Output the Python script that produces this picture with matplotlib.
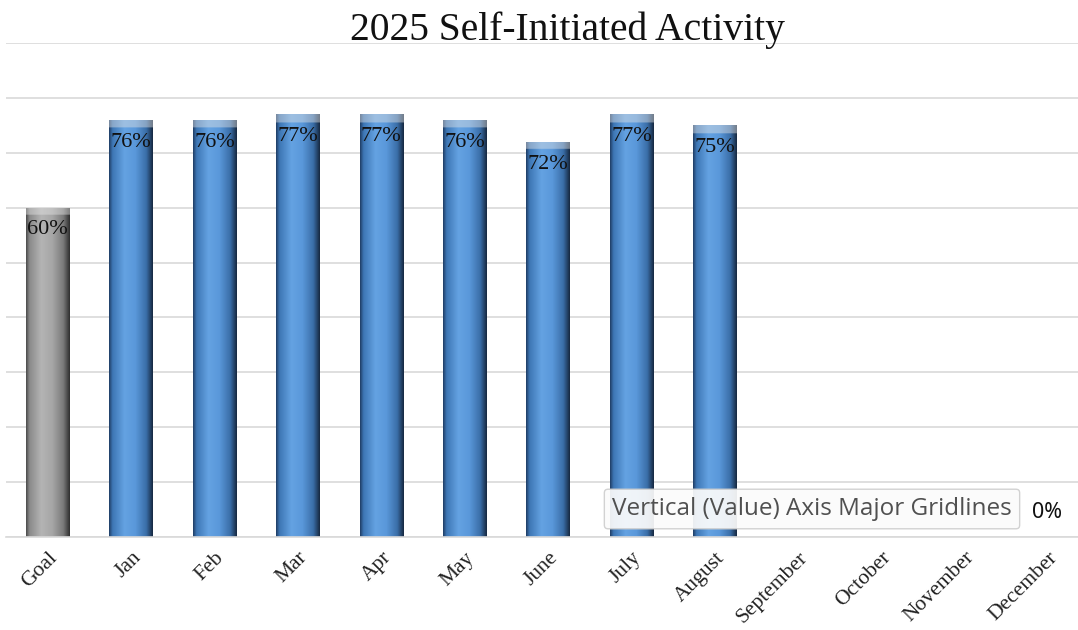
import numpy as np
import matplotlib
matplotlib.use("Agg")
import matplotlib.pyplot as plt
import matplotlib.transforms as mtrans
from matplotlib.colors import LinearSegmentedColormap

# data
categories = ['Goal', 'Jan', 'Feb', 'Mar', 'Apr', 'May', 'June', 'July', 'August',
              'September', 'October', 'November', 'December']
values = [0.60, 0.76, 0.76, 0.77, 0.77, 0.76, 0.72, 0.77, 0.75, 0, 0, 0, 0]
# Sept-Nov labels are hidden under the tooltip in the screenshot
labels = ['60%', '76%', '76%', '77%', '77%', '76%', '72%', '77%', '75%', '', '', '', '0%']

blue_cmap = LinearSegmentedColormap.from_list(
    'bluebar', [(0.0, '#1f3c63'), (0.08, '#3d76b4'), (0.35, '#64a2e2'),
                (0.6, '#5a98da'), (0.85, '#3a6ea8'), (1.0, '#16283f')])
gray_cmap = LinearSegmentedColormap.from_list(
    'graybar', [(0.0, '#4a4a4a'), (0.08, '#8a8a8a'), (0.35, '#b4b4b4'),
                (0.6, '#a6a6a6'), (0.85, '#7a7a7a'), (1.0, '#2e2e2e')])

fig = plt.figure(figsize=(10.78, 6.30), dpi=100)
ax = fig.add_axes([6/1078, 93/630, (1090-6)/1078, (537-43)/630])
ax.set_xlim(-0.5, len(categories) - 0.5)
ax.set_ylim(0, 0.9)

ax.set_yticks(np.arange(0, 0.91, 0.1))
ax.yaxis.grid(True, color='#d9d9d9', lw=1.2)
ax.set_axisbelow(True)
ax.tick_params(axis='y', left=False, labelleft=False)
for s in ['top', 'right', 'left']:
    ax.spines[s].set_visible(False)
ax.spines['bottom'].set_color('#d9d9d9')
ax.spines['bottom'].set_linewidth(1.2)

x = np.arange(len(categories))
width = 0.52
bars = ax.bar(x, values, width=width, color='none', edgecolor='none')

grad = np.linspace(0, 1, 256).reshape(1, -1)
for i, b in enumerate(bars):
    h = b.get_height()
    if h <= 0:
        continue
    cmap = gray_cmap if i == 0 else blue_cmap
    rgb = cmap(np.repeat(grad, 300, axis=0))[:, :, :3]
    # lighter bevel at the top of each bar
    cap = int(300 * 0.013 / h) + 1
    rgb[:cap] = rgb[:cap] * 0.55 + 0.4
    im = ax.imshow(rgb, extent=[b.get_x(), b.get_x() + b.get_width(), 0, h],
                   aspect='auto', origin='upper', zorder=2, interpolation='bilinear')
    im.set_clip_path(b)

for xi, v, lab in zip(x, values, labels):
    if not lab:
        continue
    if v > 0:
        ax.annotate(lab, (xi, v), xytext=(0, -16), textcoords='offset points',
                    ha='center', va='center', fontsize=16,
                    family='Liberation Serif', color='#111111', zorder=3)
    else:
        ax.annotate(lab, (xi, v), xytext=(-1, 18), textcoords='offset points',
                    ha='center', va='center', fontsize=15.5,
                    family='Noto Sans', color='#111111', zorder=3)

ax.set_xticks(x)
ax.set_xticklabels(categories, rotation=45, ha='right', va='center', rotation_mode='anchor',
                   fontsize=15.5, family='Liberation Serif', color='#222222')
ax.tick_params(axis='x', length=0, pad=13)
for t in ax.get_xticklabels():
    t.set_transform(t.get_transform() + mtrans.ScaledTranslation(0.07, 0, fig.dpi_scale_trans))

fig.text(567/1078, 1 - 30/630, '2025 Self-Initiated Activity', ha='center', va='center',
         fontsize=28.5, family='Liberation Serif', color='#111111')

# hover tooltip captured in the screenshot
fig.text(812/1078, 1 - 509/630, 'Vertical (Value) Axis Major Gridlines', ha='center', va='center',
         fontsize=17.5, family='Open Sans', color='#505050', zorder=10,
         bbox=dict(boxstyle='round,pad=0.32,rounding_size=0.15', fc='#fbfbfb', ec='#cfcfcf',
                   alpha=0.93, lw=1))

fig.savefig('out.png', dpi=100)
